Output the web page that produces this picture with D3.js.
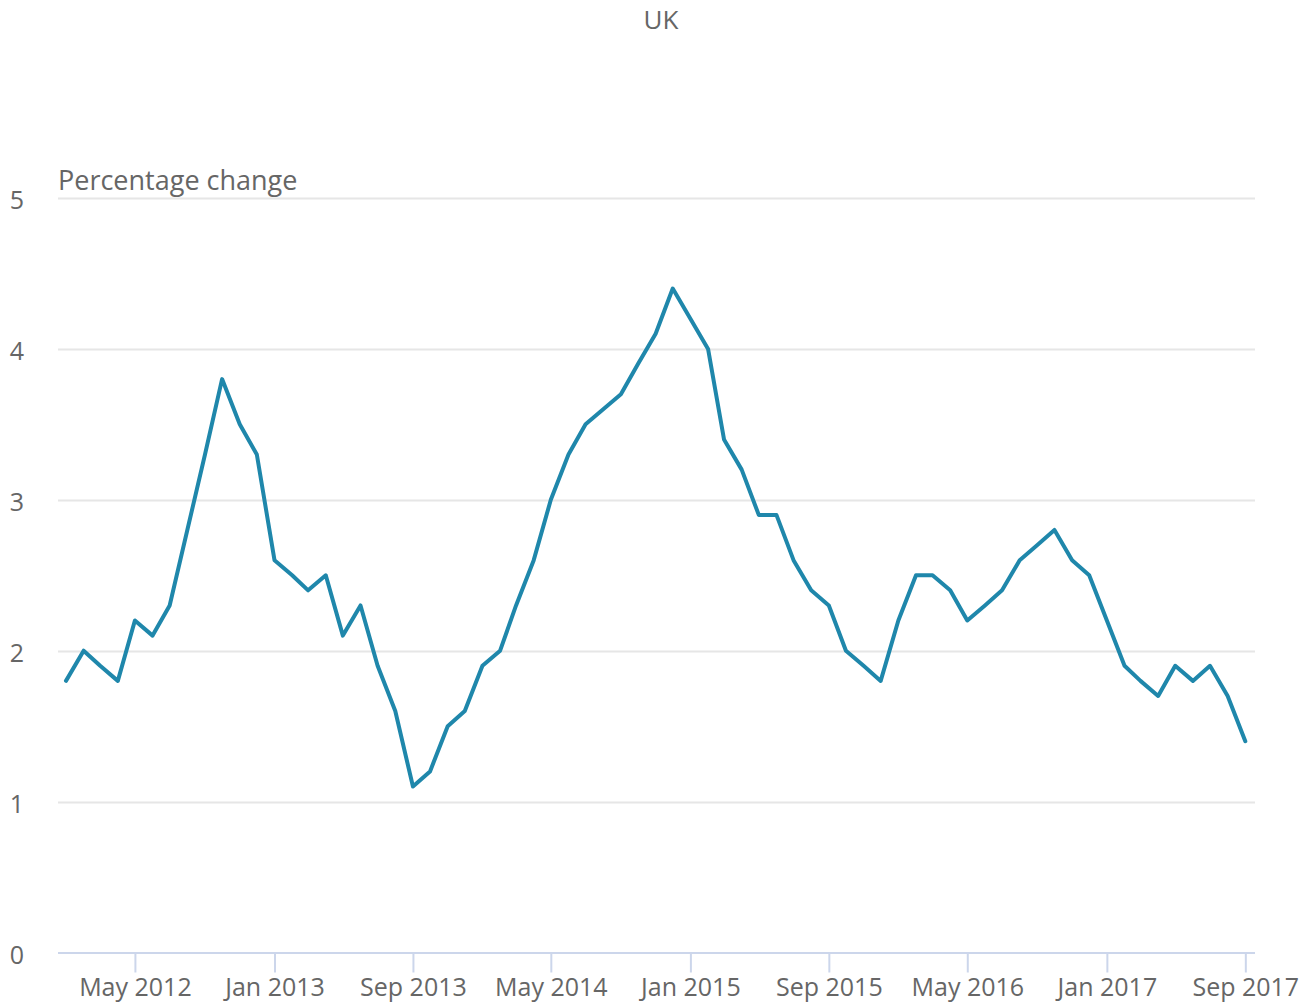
<!DOCTYPE html>
<html>
<head>
<meta charset="utf-8">
<script src="https://cdn.jsdelivr.net/npm/d3@7"></script>
<style>
  body { margin: 0; background: #fff; }
  text { font-family: "Open Sans", sans-serif; fill: #666666; }
</style>
</head>
<body>
<svg id="chart" width="1311" height="1003"></svg>
<script>
// monthly values, Jan 2012 .. Sep 2017
var startMonth = [2012, 0];
var values = [
  1.8, 2.0, 1.9, 1.8, 2.2, 2.1, 2.3, 2.8, 3.3, 3.8, 3.5, 3.3,
  2.6, 2.5, 2.4, 2.5, 2.1, 2.3, 1.9, 1.6, 1.1, 1.2, 1.5, 1.6,
  1.9, 2.0, 2.3, 2.6, 3.0, 3.3, 3.5, 3.6, 3.7, 3.9, 4.1, 4.4,
  4.2, 4.0, 3.4, 3.2, 2.9, 2.9, 2.6, 2.4, 2.3, 2.0, 1.9, 1.8,
  2.2, 2.5, 2.5, 2.4, 2.2, 2.3, 2.4, 2.6, 2.7, 2.8, 2.6, 2.5,
  2.2, 1.9, 1.8, 1.7, 1.9, 1.8, 1.9, 1.7, 1.4
];
var yTicks = [0, 1, 2, 3, 4, 5];
var xTickLabels = ['May 2012', 'Jan 2013', 'Sep 2013', 'May 2014', 'Jan 2015',
                   'Sep 2015', 'May 2016', 'Jan 2017', 'Sep 2017'];
var title = 'UK';
var yTitle = 'Percentage change';

var data = values.map(function(v, i){
  return {date: new Date(startMonth[0], startMonth[1] + i, 1), value: v};
});

var parseTick = d3.timeParse('%b %Y');
var xTicks = xTickLabels.map(function(s){ return parseTick(s); });

var svg = d3.select('#chart');
var plot = {left: 58, right: 1255, top: 198, bottom: 952.5};

var x = d3.scaleTime()
  .domain([new Date(2011, 11, 18), new Date(2017, 8, 18)])
  .range([plot.left, plot.right]);

var y = d3.scaleLinear()
  .domain([0, 5])
  .range([plot.bottom, plot.top]);

// gridlines
svg.append('g')
  .selectAll('line')
  .data(yTicks.filter(function(d){ return d > 0; }))
  .enter().append('line')
  .attr('x1', plot.left)
  .attr('x2', plot.right)
  .attr('y1', function(d){ return Math.round(y(d)) + 0.5; })
  .attr('y2', function(d){ return Math.round(y(d)) + 0.5; })
  .style('stroke', '#e6e6e6')
  .style('stroke-width', 2);

// y labels
svg.append('g')
  .selectAll('text')
  .data(yTicks)
  .enter().append('text')
  .attr('x', 17)
  .attr('y', function(d){ return y(d) + 2; })
  .attr('dy', '0.36em')
  .attr('text-anchor', 'middle')
  .style('font-size', '25px')
  .text(function(d){ return d; });

// x axis
var xAxis = d3.axisBottom(x)
  .tickValues(xTicks)
  .tickSize(20)
  .tickFormat(function(d, i){ return xTickLabels[i]; });

var gx = svg.append('g')
  .attr('transform', 'translate(0,' + plot.bottom + ')')
  .call(xAxis);
gx.select('.domain')
  .attr('d', 'M' + plot.left + ',0.5H' + plot.right)
  .style('stroke', '#ccd6eb')
  .style('stroke-width', 2);
gx.selectAll('.tick line')
  .style('stroke', '#ccd6eb')
  .style('stroke-width', 2);
gx.selectAll('.tick text')
  .attr('y', 26)
  .attr('dy', '0.71em')
  .style('font-size', '25px')
  .style('fill', '#666666')
  .style('font-family', '"Open Sans", sans-serif');
gx.attr('font-size', null).attr('font-family', null);

// line
var line = d3.line()
  .x(function(d){ return x(d.date); })
  .y(function(d){ return y(d.value); });

svg.append('path')
  .datum(data)
  .attr('d', line)
  .style('fill', 'none')
  .style('stroke', '#1f87ab')
  .style('stroke-width', 4)
  .style('stroke-linejoin', 'round')
  .style('stroke-linecap', 'round');

// titles
svg.append('text')
  .attr('x', 661)
  .attr('y', 29)
  .attr('text-anchor', 'middle')
  .style('font-size', '26px')
  .text(title);

svg.append('text')
  .attr('x', 58)
  .attr('y', 190)
  .style('font-size', '27px')
  .text(yTitle);
</script>
</body>
</html>
